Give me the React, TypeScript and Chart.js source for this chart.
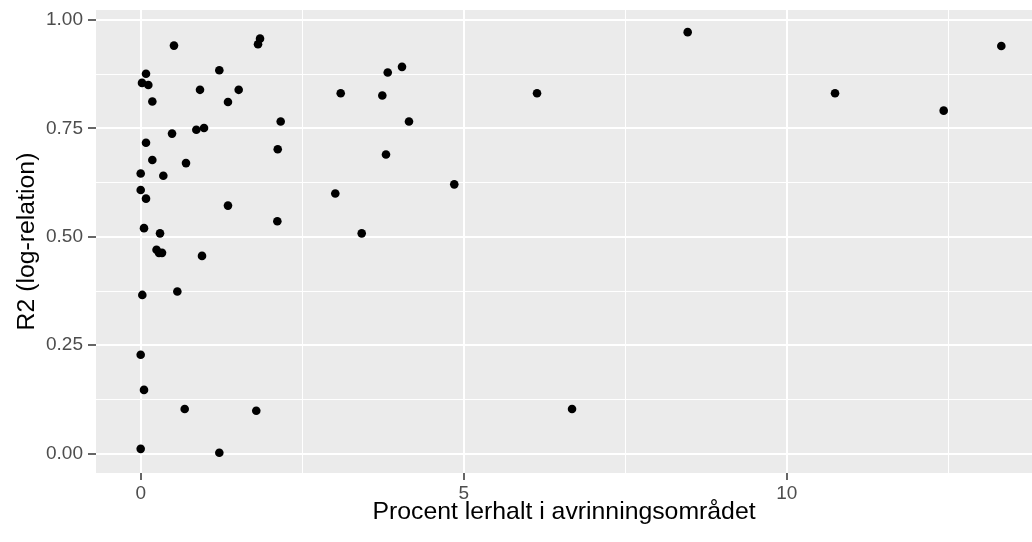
import React, { useEffect, useRef } from "react";
import { Chart, registerables } from "chart.js";

Chart.register(...registerables);

// Procent lerhalt i avrinningsområdet (x) and R2 (log-relation) (y)
const lerhalt: number[] = [
  0.515, 1.847, 1.816, 0.082, 0.02, 0.118, 1.217, 0.918, 1.517, 0.18,
  1.351, 2.167, 0.485, 0.861, 0.98, 0.082, 2.121, 0.18, 0.701, 0.0,
  0.35, 0.0, 0.082, 1.351, 2.115, 0.051, 0.299, 0.245, 0.283, 0.33,
  0.949, 0.025, 0.567, 0.0, 0.051, 0.681, 1.789, 0.0, 1.217, 4.045,
  3.824, 3.096, 3.74, 4.153, 3.797, 4.854, 3.012, 3.421, 6.135, 6.677,
  8.467, 10.748, 12.43, 13.322,
];
const r2: number[] = [
  0.941, 0.957, 0.944, 0.876, 0.855, 0.85, 0.884, 0.839, 0.839, 0.812,
  0.811, 0.766, 0.738, 0.747, 0.751, 0.717, 0.702, 0.677, 0.67, 0.646,
  0.641, 0.608, 0.588, 0.572, 0.536, 0.52, 0.508, 0.47, 0.463, 0.463,
  0.456, 0.366, 0.374, 0.228, 0.147, 0.103, 0.099, 0.011, 0.002, 0.892,
  0.879, 0.831, 0.826, 0.766, 0.69, 0.621, 0.6, 0.508, 0.831, 0.103,
  0.972, 0.831, 0.791, 0.94,
];

const xMajor: number[] = [0, 5, 10];
const xMinor: number[] = [2.5, 7.5, 12.5];
const yMajor: number[] = [0, 0.25, 0.5, 0.75, 1];
const yMinor: number[] = [0.125, 0.375, 0.625, 0.875];

const xTitle = "Procent lerhalt i avrinningsområdet";
const yTitle = "R2 (log-relation)";

const FONT = "'Liberation Sans', Arial, sans-serif";

const panelBg = {
  id: "panelBg",
  beforeDraw(chart: any) {
    const { ctx, chartArea, width, height } = chart;
    ctx.save();
    ctx.fillStyle = "#ffffff";
    ctx.fillRect(0, 0, width, height);
    ctx.fillStyle = "#EBEBEB";
    ctx.fillRect(
      chartArea.left,
      chartArea.top,
      chartArea.right - chartArea.left,
      chartArea.bottom - chartArea.top
    );
    ctx.restore();
  },
};

const zeroPad = (scale: any) => {
  scale.paddingTop = 0;
  scale.paddingBottom = 0;
  scale.paddingLeft = 0;
  scale.paddingRight = 0;
};

export default function App() {
  const ref = useRef<HTMLCanvasElement | null>(null);

  useEffect(() => {
    if (!ref.current) return;
    const points = lerhalt.map((x, i) => ({ x, y: r2[i] }));
    const isMajor = (arr: number[], v: number) =>
      arr.some((m) => Math.abs(m - v) < 1e-9);

    const chart = new Chart(ref.current, {
      type: "scatter",
      data: {
        datasets: [
          {
            data: points,
            backgroundColor: "#000000",
            borderWidth: 0,
            pointRadius: 4.3,
            pointHoverRadius: 4.3,
          },
        ],
      },
      plugins: [panelBg],
      options: {
        animation: false,
        responsive: false,
        devicePixelRatio: 1,
        events: [],
        layout: { padding: { top: 10, left: 0, right: 0, bottom: 0 }, autoPadding: false },
        plugins: {
          legend: { display: false },
          tooltip: { enabled: false },
        },
        scales: {
          x: {
            type: "linear",
            min: -0.692,
            max: 13.797,
            afterBuildTicks: (scale: any) => {
              scale.ticks = [...xMajor, ...xMinor]
                .sort((a, b) => a - b)
                .map((v) => ({ value: v }));
            },
            afterFit: (scale: any) => {
              scale.height = 69;
              zeroPad(scale);
            },
            border: { display: false },
            grid: {
              color: "#ffffff",
              lineWidth: (c: any) => (isMajor(xMajor, c.tick?.value) ? 2 : 1),
              tickColor: (c: any) =>
                isMajor(xMajor, c.tick?.value) ? "#333333" : "rgba(0,0,0,0)",
              tickWidth: 1.5,
              tickLength: 7,
            },
            ticks: {
              color: "#4D4D4D",
              font: { family: FONT, size: 19 },
              padding: 2,
              maxRotation: 0,
              autoSkip: false,
              callback: (v: any) => (isMajor(xMajor, Number(v)) ? String(v) : ""),
            },
            title: {
              display: true,
              text: xTitle,
              color: "#000000",
              font: { family: FONT, size: 24.8 },
              padding: { top: 0, bottom: 15 },
            },
          },
          y: {
            type: "linear",
            min: -0.0447,
            max: 1.0231,
            afterBuildTicks: (scale: any) => {
              scale.ticks = [...yMajor, ...yMinor]
                .sort((a, b) => a - b)
                .map((v) => ({ value: v }));
            },
            afterFit: (scale: any) => {
              scale.width = 96;
              zeroPad(scale);
            },
            border: { display: false },
            grid: {
              color: "#ffffff",
              lineWidth: (c: any) => (isMajor(yMajor, c.tick?.value) ? 2 : 1),
              tickColor: (c: any) =>
                isMajor(yMajor, c.tick?.value) ? "#333333" : "rgba(0,0,0,0)",
              tickWidth: 1.5,
              tickLength: 8,
            },
            ticks: {
              color: "#4D4D4D",
              font: { family: FONT, size: 19 },
              padding: 5,
              autoSkip: false,
              callback: (v: any) =>
                isMajor(yMajor, Number(v)) ? Number(v).toFixed(2) : "",
            },
            title: {
              display: true,
              text: yTitle,
              color: "#000000",
              font: { family: FONT, size: 24.8 },
              padding: { top: 12, bottom: 0 },
            },
          },
        },
      },
    });
    return () => chart.destroy();
  }, []);

  return (
    <div
      style={{
        position: "absolute",
        left: 0,
        top: 0,
        width: 1032,
        height: 542,
        overflow: "hidden",
        background: "#ffffff",
      }}
    >
      <canvas ref={ref} width={1032} height={542} style={{ display: "block" }} />
    </div>
  );
}
